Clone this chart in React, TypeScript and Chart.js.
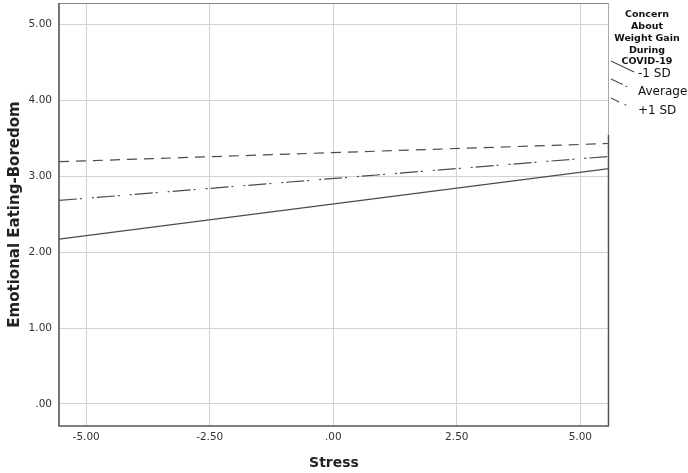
import React, { useEffect, useRef } from "react";
import { Chart, registerables } from "chart.js";

Chart.register(...registerables);

// Data
const xRange = [-5.55, 5.58];
const lowSD = [2.17, 3.1];
const averageVals = [2.68, 3.26];
const highSD = [3.19, 3.43];

const seriesNames = ["-1 SD", "Average", "+1 SD"];
const legendTitle = ["Concern", "About", "Weight Gain", "During", "COVID-19"];

const xTickValues = [-5, -2.5, 0, 2.5, 5];
const xTickLabels = ["-5.00", "-2.50", ".00", "2.50", "5.00"];
const yTickValues = [0, 1, 2, 3, 4, 5];
const yTickLabels = [".00", "1.00", "2.00", "3.00", "4.00", "5.00"];

const FONT = "'DejaVu Sans', sans-serif";
const LINE = "#4a4a4a";
const dashes: number[][] = [[], [18, 3, 2, 10, 2, 3], [10, 7]];

const framePlugin = {
  id: "frame",
  afterDatasetsDraw(chart: any) {
    const { ctx, chartArea: a } = chart;
    ctx.save();
    ctx.lineCap = "butt";
    // top
    ctx.strokeStyle = "#8a8a8a";
    ctx.lineWidth = 1;
    ctx.beginPath();
    ctx.moveTo(a.left, a.top + 0.5);
    ctx.lineTo(a.right, a.top + 0.5);
    ctx.stroke();
    // right upper light
    ctx.strokeStyle = "#a8a8a8";
    ctx.beginPath();
    ctx.moveTo(a.right - 0.5, a.top);
    ctx.lineTo(a.right - 0.5, 135);
    ctx.stroke();
    // right lower dark
    ctx.strokeStyle = "#555";
    ctx.lineWidth = 1.5;
    ctx.beginPath();
    ctx.moveTo(a.right - 0.5, 135);
    ctx.lineTo(a.right - 0.5, a.bottom);
    ctx.stroke();
    // left & bottom
    ctx.strokeStyle = "#555";
    ctx.lineWidth = 1.6;
    ctx.beginPath();
    ctx.moveTo(a.left, a.top);
    ctx.lineTo(a.left, a.bottom);
    ctx.lineTo(a.right, a.bottom);
    ctx.stroke();
    ctx.restore();
  },
  afterDraw(chart: any) {
    const { ctx } = chart;
    ctx.save();
    ctx.fillStyle = "#111";
    ctx.textAlign = "center";
    ctx.textBaseline = "middle";
    ctx.font = `bold 9.5px ${FONT}`;
    const ty = [15, 27, 39, 51, 62];
    legendTitle.forEach((t, i) => ctx.fillText(t, 647, ty[i]));
    const ey = [74, 92, 111];
    ctx.font = `12px ${FONT}`;
    ctx.textAlign = "left";
    seriesNames.forEach((n, i) => {
      ctx.strokeStyle = LINE;
      ctx.lineWidth = 1.1;
      ctx.setLineDash(i === 0 ? [] : i === 1 ? [13, 3, 2, 10] : [9, 6, 2, 10]);
      ctx.beginPath();
      ctx.moveTo(611, ey[i] - 13);
      ctx.lineTo(634, ey[i] - 2);
      ctx.stroke();
      ctx.setLineDash([]);
      ctx.fillStyle = "#111";
      ctx.fillText(n, 638, ey[i]);
    });
    ctx.restore();
  },
};

export default function App() {
  const ref = useRef<HTMLCanvasElement>(null);
  useEffect(() => {
    if (!ref.current) return;
    const sets = [lowSD, averageVals, highSD];
    const chart = new Chart(ref.current, {
      type: "scatter",
      data: {
        datasets: sets.map((vals, i) => ({
          label: seriesNames[i],
          data: xRange.map((x, j) => ({ x, y: vals[j] })),
          showLine: true,
          borderColor: LINE,
          borderWidth: 1.2,
          borderDash: dashes[i],
          pointRadius: 0,
          fill: false,
        })),
      },
      options: {
        animation: false,
        responsive: true,
        maintainAspectRatio: false,
        layout: { padding: { top: 3, right: 79, left: 0, bottom: 0 } },
        plugins: { legend: { display: false }, tooltip: { enabled: false } },
        scales: {
          x: {
            type: "linear",
            min: xRange[0],
            max: xRange[1],
            afterBuildTicks: (s: any) => {
              s.ticks = xTickValues.map((v) => ({ value: v }));
            },
            afterFit: (s: any) => {
              s.height = 47;
              s.paddingLeft = 0;
              s.paddingRight = 0;
            },
            grid: { color: "#d2d2d2", drawTicks: false, lineWidth: 1 },
            border: { display: false },
            ticks: {
              padding: 5,
              color: "#333",
              font: { family: FONT, size: 10.5 },
              callback: (v: any) => {
                const i = xTickValues.indexOf(Number(v));
                return i >= 0 ? xTickLabels[i] : "";
              },
            },
            title: {
              display: true,
              text: "Stress",
              color: "#222",
              font: { family: FONT, size: 14, weight: "bold" },
              padding: { top: 0, bottom: 1 },
            },
          },
          y: {
            type: "linear",
            min: -0.29,
            max: 5.28,
            afterBuildTicks: (s: any) => {
              s.ticks = yTickValues.map((v) => ({ value: v }));
            },
            afterFit: (s: any) => {
              s.width = 59;
              s.paddingTop = 0;
              s.paddingBottom = 0;
            },
            grid: { color: "#d2d2d2", drawTicks: false, lineWidth: 1 },
            border: { display: false },
            ticks: {
              padding: 7,
              color: "#333",
              font: { family: FONT, size: 10.5 },
              callback: (v: any) => {
                const i = yTickValues.indexOf(Number(v));
                return i >= 0 ? yTickLabels[i] : "";
              },
            },
            title: {
              display: true,
              text: "Emotional Eating-Boredom",
              color: "#222",
              font: { family: FONT, size: 15, weight: "bold" },
              padding: { top: 6, bottom: 0 },
            },
          },
        },
      },
      plugins: [framePlugin],
    });
    return () => chart.destroy();
  }, []);
  return (
    <div style={{ position: "fixed", left: 0, top: 0, width: 688, height: 473, background: "#fff" }}>
      <canvas ref={ref} />
    </div>
  );
}
